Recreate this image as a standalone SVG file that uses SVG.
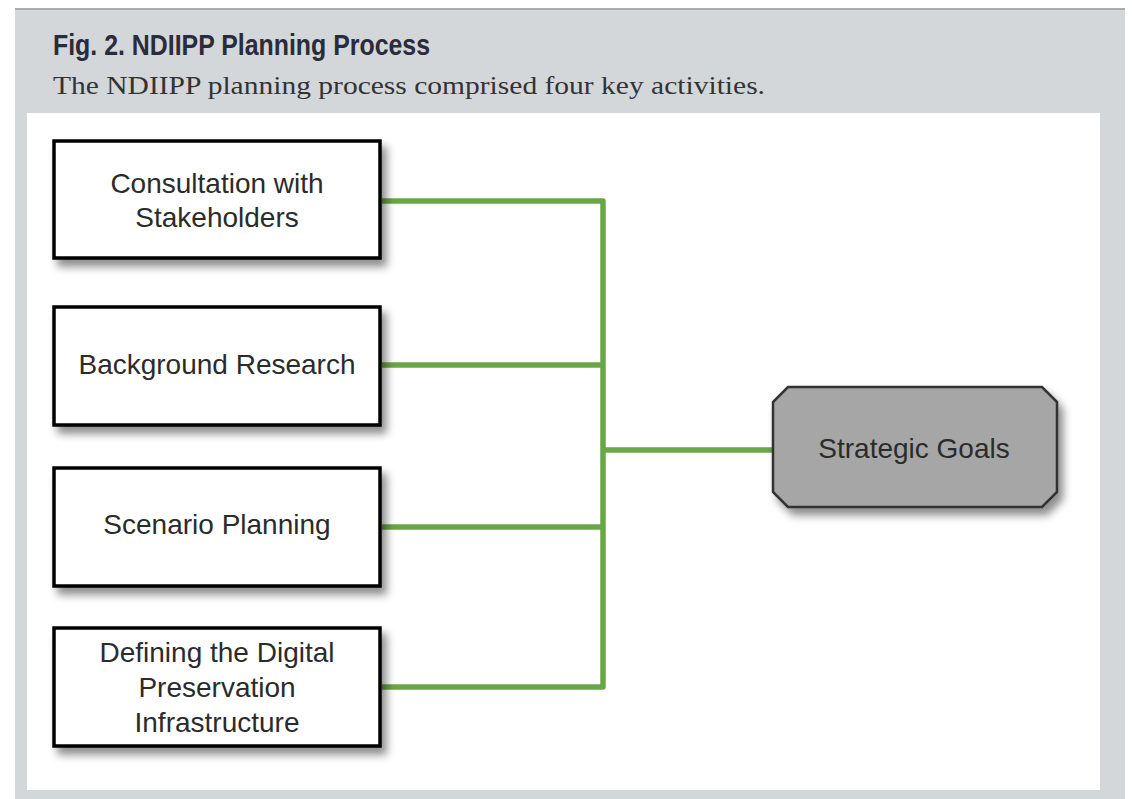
<svg xmlns="http://www.w3.org/2000/svg" width="1132" height="799" viewBox="0 0 1132 799">
<defs>
<filter id="sh" x="-10%" y="-10%" width="130%" height="140%">
<feDropShadow dx="5" dy="7" stdDeviation="4" flood-color="#000" flood-opacity="0.45"/>
</filter>
<style>
.box{fill:#fff;stroke:#000;stroke-width:3.5}
.lbl{font-family:"Liberation Sans",Arial,sans-serif;font-size:28px;fill:#2b2b2b;text-anchor:middle}
.con{fill:none;stroke:#69a746;stroke-width:5.5;stroke-linejoin:round}
</style>
</defs>
<rect x="0" y="0" width="1132" height="799" fill="#fff"/>
<rect x="15" y="8" width="1110" height="791" fill="#d3d7da"/>
<rect x="15" y="8" width="1110" height="2" fill="#a9adb0"/>
<rect x="27" y="113" width="1073" height="677" fill="#fff"/>
<text x="53" y="55" font-family="'Liberation Sans',Arial,sans-serif" font-weight="bold" font-size="29" fill="#2a2c3a" textLength="377" lengthAdjust="spacingAndGlyphs">Fig. 2. NDIIPP Planning Process</text>
<text x="53" y="94" font-family="'Liberation Serif','Times New Roman',serif" font-size="25" fill="#333" textLength="712" lengthAdjust="spacingAndGlyphs">The NDIIPP planning process comprised four key activities.</text>
<g id="connectors">
<path class="con" d="M382 201 H603 V687 H382"/>
<path class="con" d="M382 365 H603"/>
<path class="con" d="M382 527 H603"/>
<path class="con" d="M603 450 H773"/>
</g>
<g id="n1">
<rect class="box" x="54" y="141" width="326" height="117" filter="url(#sh)"/>
<text class="lbl" x="217" y="193">Consultation with</text>
<text class="lbl" x="217" y="227">Stakeholders</text>
</g>
<g id="n2">
<rect class="box" x="54" y="307" width="326" height="118" filter="url(#sh)"/>
<text class="lbl" x="217" y="374">Background Research</text>
</g>
<g id="n3">
<rect class="box" x="54" y="468" width="326" height="118" filter="url(#sh)"/>
<text class="lbl" x="217" y="534">Scenario Planning</text>
</g>
<g id="n4">
<rect class="box" x="54" y="628" width="326" height="118" filter="url(#sh)"/>
<text class="lbl" x="217" y="662">Defining the Digital</text>
<text class="lbl" x="217" y="697">Preservation</text>
<text class="lbl" x="217" y="732">Infrastructure</text>
</g>
<g id="n5">
<polygon points="788,387 1042,387 1057,402 1057,492 1042,507 788,507 773,492 773,402" fill="#a6a6a6" stroke="#333" stroke-width="2.5" filter="url(#sh)"/>
<text class="lbl" x="914" y="458">Strategic Goals</text>
</g>
</svg>
